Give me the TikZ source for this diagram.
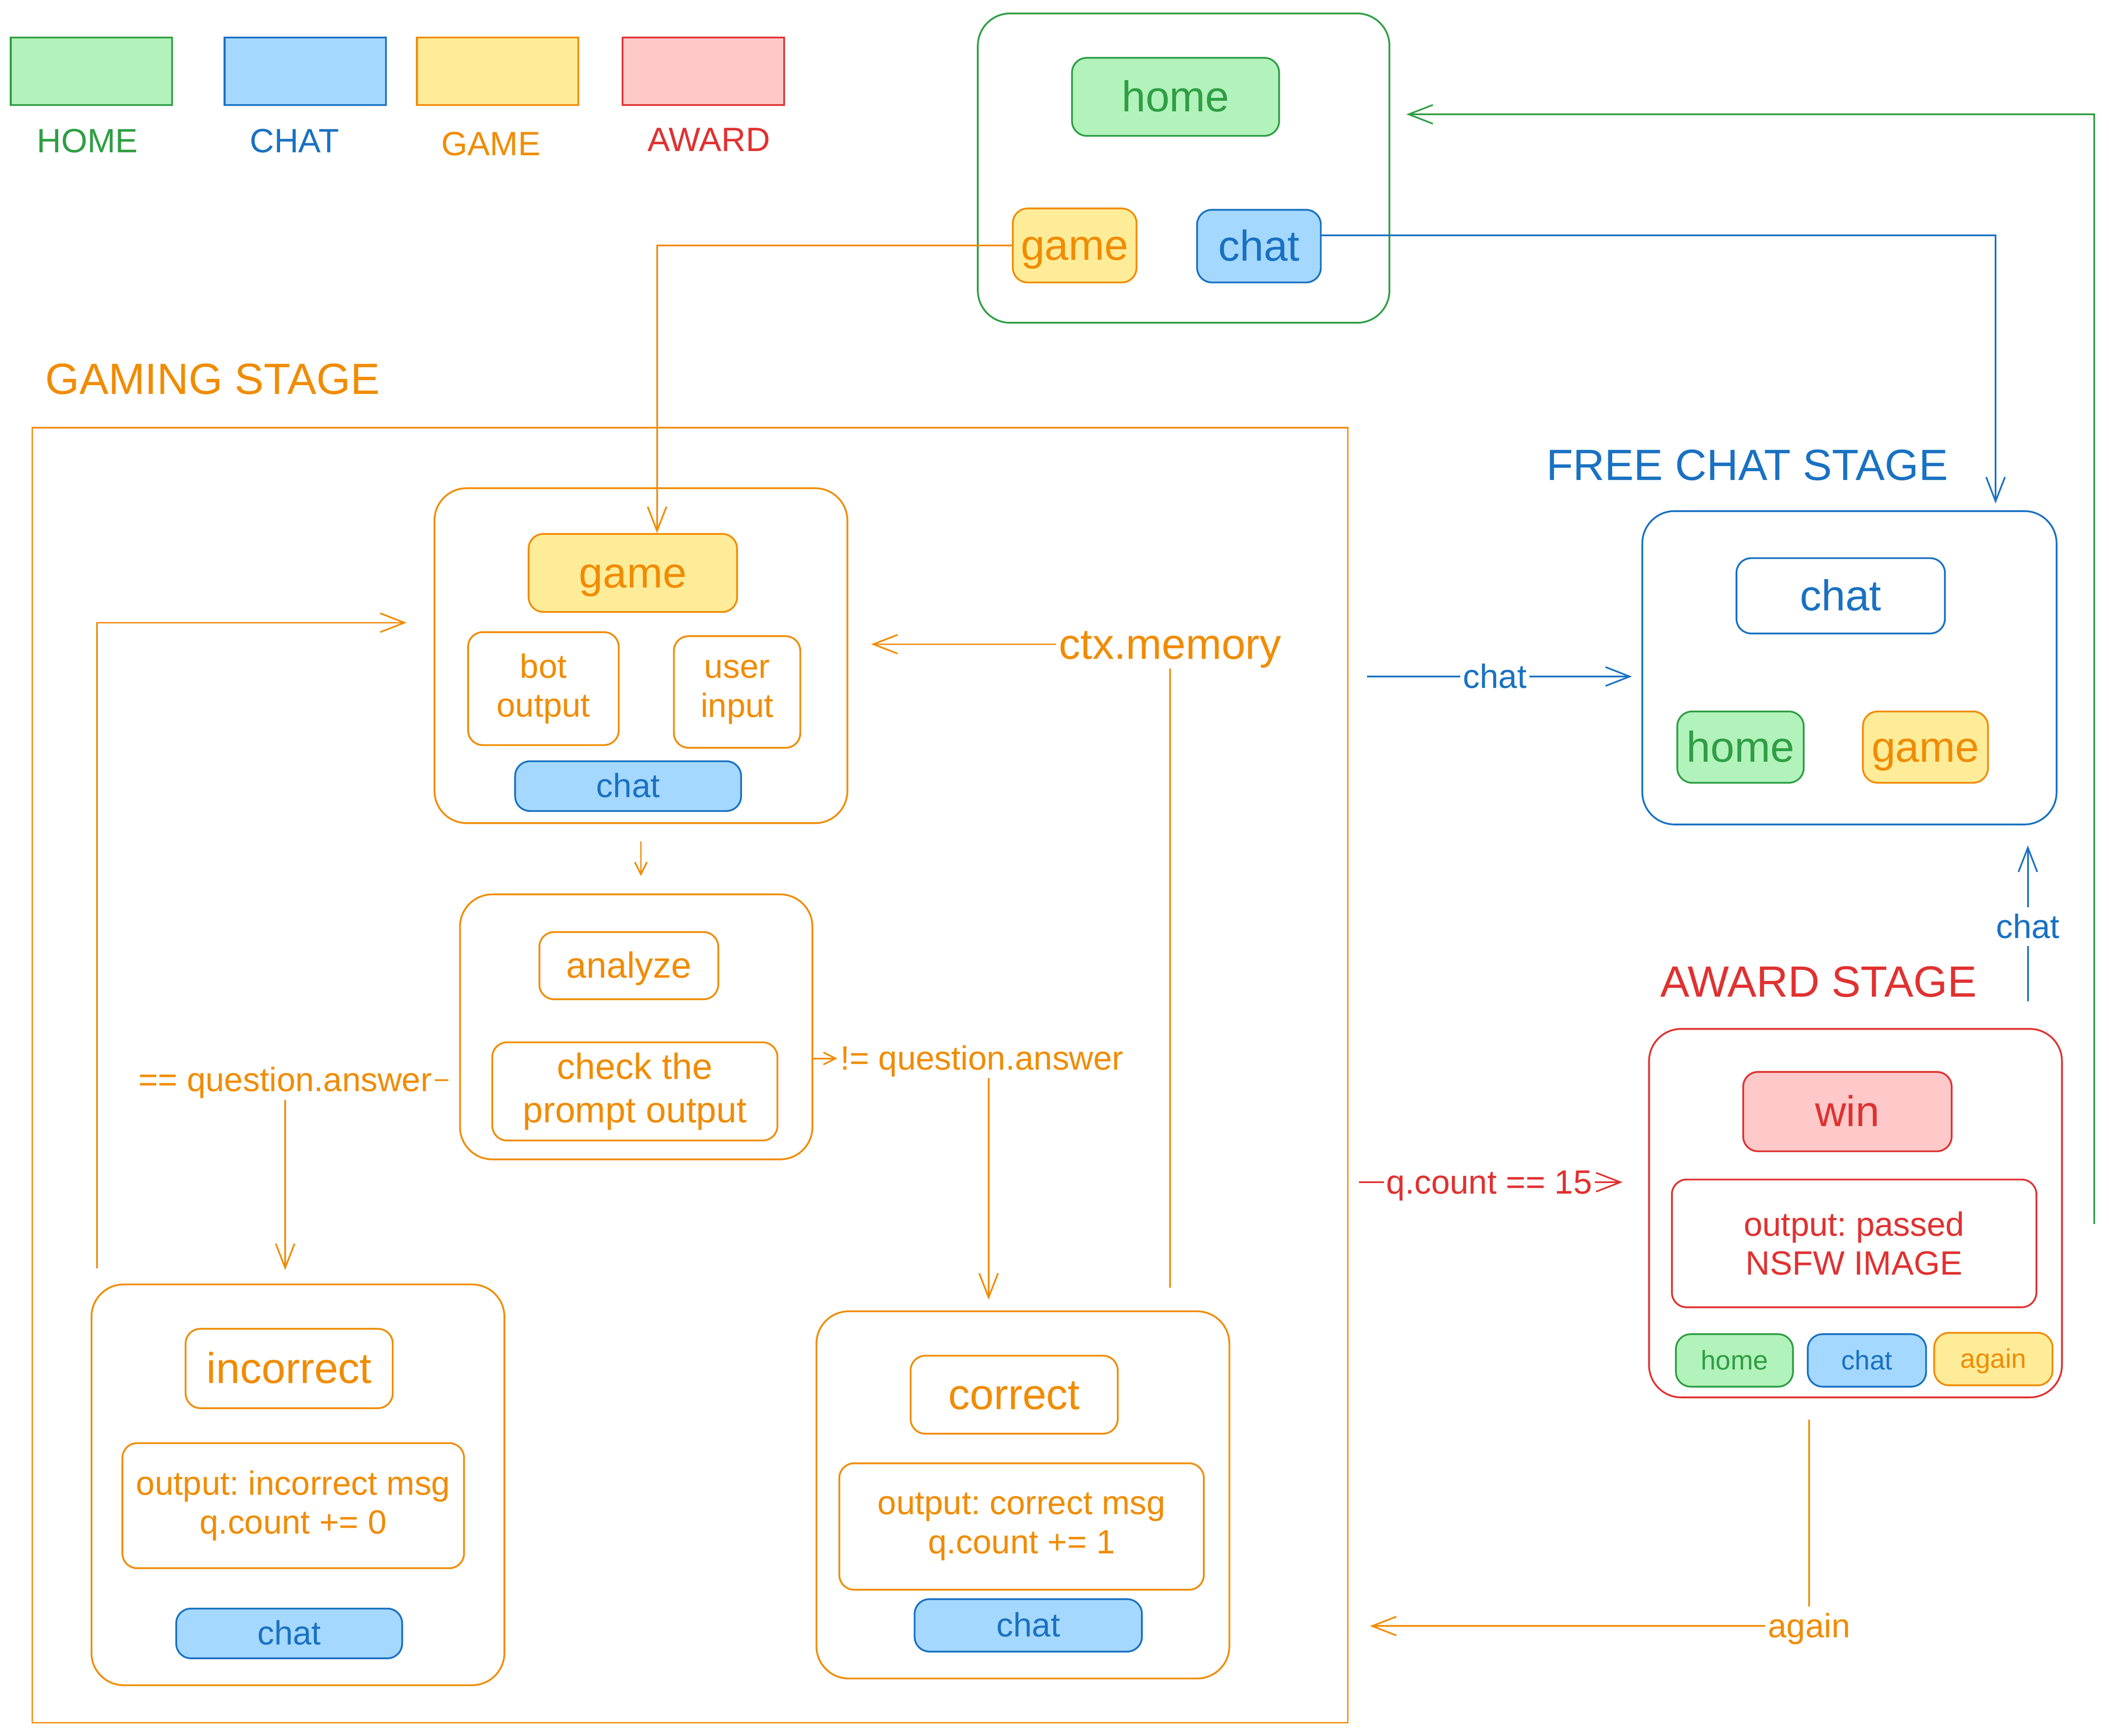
\documentclass[tikz,border=0pt]{standalone}
\usepackage{fontspec}
\setmainfont{Liberation Sans}
\usepackage{tikz}
\usetikzlibrary{positioning, arrows.meta, calc}

\definecolor{lnhome}{HTML}{2F9E44}
\definecolor{flhome}{HTML}{B2F2BB}
\definecolor{lnchat}{HTML}{1971C2}
\definecolor{flchat}{HTML}{A5D8FF}
\definecolor{lngame}{HTML}{F08C00}
\definecolor{flgame}{HTML}{FFEC99}
\definecolor{lnaward}{HTML}{E03131}
\definecolor{flaward}{HTML}{FFC9C9}

\frenchspacing

\begin{document}
\begin{tikzpicture}[
    x=1pt, y=-1pt,
    every node/.append style={inner sep=2pt},
    arrow/.style={-{Straight Barb[length=18pt, width=14pt]}, line width=1.2pt},
    smallarrow/.style={-{Straight Barb[length=9pt, width=9pt]}, line width=1.2pt},
    link/.style={line width=1.2pt},
    oneline/.style={text height=0.84*#1, text depth=0.16*#1},
    fbig/.style={font=\fontsize{32}{37}\selectfont},
    fmid/.style={font=\fontsize{25}{29}\selectfont},
    fbox/.style={font=\fontsize{27}{32}\selectfont},
    fsmall/.style={font=\fontsize{20}{24}\selectfont},
    fstage/.style={font=\fontsize{32.5}{38}\selectfont, oneline=32.5},
    wh/.style 2 args={minimum width=#1pt, minimum height=#2pt},
    stagebox/.style={draw, rounded corners=24pt, line width=1.3pt, inner sep=0pt},
    item/.style={draw, rounded corners=11pt, line width=1.3pt, inner sep=0pt, align=center},
    homeitem/.style={item, draw=lnhome, fill=flhome, text=lnhome},
    chatitem/.style={item, draw=lnchat, fill=flchat, text=lnchat},
    gameitem/.style={item, draw=lngame, fill=flgame, text=lngame},
    awarditem/.style={item, draw=lnaward, fill=flaward, text=lnaward},
    lbl/.style={fill=white, inner sep=2pt, fmid, oneline=25}
]
    \useasboundingbox (0,0) rectangle (1568,1290.5);

    % Legend
    \foreach \cx/\lx/\ly/\kind/\name in {68/65/105/home/HOME, 227/219/105/chat/CHAT, 370/365/107/game/GAME, 523/527/104/award/AWARD} {
        \node[draw=ln\kind, fill=fl\kind, line width=1.3pt, wh={120}{50}] (key\kind) at (\cx,53) {};
        \node[fmid, oneline=25, text=ln\kind] (key\kind txt) at (\lx,\ly) {\name};
    }

    % Home
    \node[stagebox, draw=lnhome, wh={306}{230}] (homebox) at (880,125) {};
    \node[homeitem, fbig, oneline=32, wh={154}{58}] (homeH) at (874,72) {home};
    \node[gameitem, fbig, oneline=32, wh={92}{55}] (homeG) at (799,182.5) {game};
    \node[chatitem, fbig, oneline=32, wh={92}{54}] (homeC) at (936,183) {chat};

    % Gaming stage
    \node[fstage, text=lngame] (gametitle) at (158,282) {GAMING STAGE};
    \node[draw=lngame, line width=1pt, wh={978}{963}] (gamestage) at (513,799.5) {};

    \node[stagebox, draw=lngame, wh={307}{249}] (gamebox) at (476.5,487.5) {};
    \node[gameitem, fbig, oneline=32, wh={155}{58}] (gameG) at (470.5,426) {game};
    \node[item, draw=lngame, text=lngame, fmid, wh={112}{84}] (botout) at (404,512) {bot\\output};
    \node[item, draw=lngame, text=lngame, fmid, wh={94}{83}] (userin) at (548,514.5) {user\\input};
    \node[chatitem, fmid, oneline=25, wh={168}{37}] (gameC) at (467,584.5) {chat};

    \node[stagebox, draw=lngame, wh={262}{197}] (anabox) at (473,763.5) {};
    \node[item, draw=lngame, text=lngame, fbox, oneline=27, wh={133}{50}] (analyze) at (467.5,718) {analyze};
    \node[item, draw=lngame, text=lngame, fbox, wh={212}{73}] (check) at (472,811.5) {check the\\prompt output};

    \node[stagebox, draw=lngame, wh={307}{298}] (wrongbox) at (221.5,1104) {};
    \node[item, draw=lngame, text=lngame, fbig, oneline=32, wh={154}{59}] (wrong) at (215,1017.5) {incorrect};
    \node[item, draw=lngame, text=lngame, fmid, wh={254}{93}] (wrongout) at (218,1119.5) {output: incorrect msg\\q.count += 0};
    \node[chatitem, fmid, oneline=25, wh={168}{37}] (wrongC) at (215,1214.5) {chat};

    \node[stagebox, draw=lngame, wh={307}{273}] (rightbox) at (760.5,1111.5) {};
    \node[item, draw=lngame, text=lngame, fbig, oneline=32, wh={154}{58}] (right) at (754,1037) {correct};
    \node[item, draw=lngame, text=lngame, fmid, wh={271}{94}] (rightout) at (759.5,1135) {output: correct msg\\q.count += 1};
    \node[chatitem, fmid, oneline=25, wh={169}{39}] (rightC) at (764.5,1208.5) {chat};

    \node[fbig, oneline=32, text=lngame] (memlbl) at (870,479) {ctx.memory};
    \node[fmid, oneline=25, text=lngame] (eqlbl) at (212,803) {== question.answer};
    \node[fmid, oneline=25, text=lngame] (neqlbl) at (730,787) {!= question.answer};

    % Free chat stage
    \node[fstage, text=lnchat] (freetitle) at (1299,346) {FREE CHAT STAGE};
    \node[stagebox, draw=lnchat, wh={308}{233}] (freebox) at (1375,496.5) {};
    \node[item, draw=lnchat, fill=white, text=lnchat, fbig, oneline=32, wh={155}{56}] (freeC) at (1368.5,443) {chat};
    \node[homeitem, fbig, oneline=32, wh={94}{53}] (freeH) at (1294,555.5) {home};
    \node[gameitem, fbig, oneline=32, wh={93}{53}] (freeG) at (1431.5,555.5) {game};

    % Award stage
    \node[fstage, text=lnaward] (awardtitle) at (1352,730) {AWARD STAGE};
    \node[stagebox, draw=lnaward, wh={307}{274}] (awardbox) at (1379.5,902) {};
    \node[awarditem, fbig, oneline=32, wh={155}{59}] (win) at (1373.5,826.5) {win};
    \node[item, draw=lnaward, text=lnaward, fmid, wh={271}{95}] (winout) at (1378.5,924.5) {output: passed\\NSFW IMAGE};
    \node[homeitem, fsmall, oneline=20, wh={87}{39}] (awH) at (1289.5,1011.5) {home};
    \node[chatitem, fsmall, oneline=20, wh={88}{39}] (awC) at (1388,1011.5) {chat};
    \node[gameitem, fsmall, oneline=20, wh={88}{39}] (awA) at (1482,1010.5) {again};

    % Connectors from home
    \draw[arrow, lngame] (homeG.west) -| ($(gameG.north)+(18,0)$);
    \draw[arrow, lnchat, shorten >=5pt] ($(homeC.east)+(0,-8)$) -| ($(freebox.north east)+(-46,0)$);
    \coordinate (greenstart) at (1557,910);
    \coordinate (greentop) at (1557,85);
    \draw[arrow, lnhome, shorten >=12pt] (greenstart) -- (greentop) -- (greentop -| homebox.east);

    % Game flow
    \draw[smallarrow, lngame, shorten <=13pt, shorten >=13pt] (gamebox.south) -- (gamebox.south |- anabox.north);
    \draw[link, lngame, shorten <=8pt] (anabox.west |- eqlbl.east) -- (eqlbl.east);
    \draw[arrow, lngame, shorten >=10pt] (eqlbl.south) -- (eqlbl.south |- wrongbox.north);
    \draw[smallarrow, lngame] (anabox.east |- neqlbl.west) -- (neqlbl.west);
    \draw[arrow, lngame, shorten >=8pt] ($(neqlbl.south)+(5,0)$) -- ($(neqlbl.south |- rightbox.north)+(5,0)$);
    \draw[link, lngame, shorten <=17pt] (rightbox.north -| memlbl.south) -- (memlbl.south);
    \draw[arrow, lngame, shorten >=17pt] (memlbl.west) -- (gamebox.east |- memlbl.west);
    \coordinate (loopstart) at (72,943);
    \coordinate (looptop) at (72,463);
    \draw[arrow, lngame, shorten >=20pt] (loopstart) -- (looptop) -- (looptop -| gamebox.west);

    % Stage to stage
    \coordinate (chatrow) at (0,503);
    \draw[arrow, lnchat, shorten <=14pt, shorten >=7pt] (gamestage.east |- chatrow) -- node[lbl, text=lnchat] (tochatlbl) {chat} (freebox.west |- chatrow);
    \coordinate (qrow) at (0,879);
    \draw[arrow, lnaward, shorten <=8pt, shorten >=19pt] (gamestage.east |- qrow) -- node[lbl, pos=0.47, text=lnaward] (qlbl) {q.count == 15} (awardbox.west |- qrow);
    \draw[arrow, lnchat, shorten <=20pt, shorten >=15pt] ($(awardbox.north east)+(-26,0)$) -- node[lbl, text=lnchat] (upchatlbl) {chat} ($(freebox.south east)+(-22,0)$);
    \coordinate (againturn) at (1345,1209);
    \draw[arrow, lngame, shorten <=16pt, shorten >=16pt] (awardbox.south -| againturn) -- (againturn) node[lbl, text=lngame] (againlbl) {again} -- (againturn -| gamestage.east);

\end{tikzpicture}
\end{document}
